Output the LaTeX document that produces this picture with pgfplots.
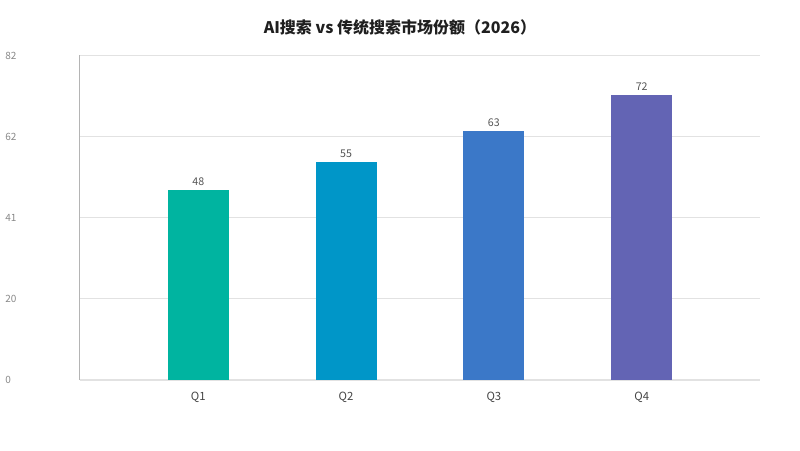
\documentclass[border=0pt]{standalone}
\usepackage{pgfplots}
\pgfplotsset{compat=1.18}
\usepackage{fontspec}
\setmainfont{Noto Sans CJK SC}

\definecolor{cQa}{RGB}{0,180,160}
\definecolor{cQb}{RGB}{0,150,200}
\definecolor{cQc}{RGB}{59,120,200}
\definecolor{cQd}{RGB}{99,100,180}
\definecolor{gridc}{RGB}{226,226,226}
\definecolor{axisc}{RGB}{180,180,180}
\definecolor{ticktxt}{RGB}{136,136,136}
\definecolor{cattxt}{RGB}{68,68,68}
\definecolor{valtxt}{RGB}{85,85,85}

\begin{document}
\begin{tikzpicture}
% canvas 800x450 px (1px = 0.75pt), axis bottom-left at image (80,380)
\path (-60pt,-52.5pt) rectangle (540pt,285pt);
\begin{axis}[
    at={(0pt,0pt)}, anchor=south west,
    scale only axis,
    width=510pt, height=243.4pt,
    xmin=-0.8, xmax=3.8,
    ymin=0, ymax=82,
    xtick={0,1,2,3},
    xticklabels={Q1,Q2,Q3,Q4},
    ytick={0,20.5,41,61.5,82},
    yticklabels={0,20,41,62,82},
    ymajorgrids=true,
    grid style={draw=gridc, line width=0.75pt},
    axis x line*=bottom,
    axis y line*=left,
    x axis line style={draw=gridc, line width=0.75pt, -},
    y axis line style={draw=axisc, line width=0.75pt, -},
    major tick length=0pt,
    /pgf/number format/assume math mode=true,
    yticklabel style={font=\fontsize{7.5}{9}\selectfont, text=ticktxt,
        anchor=west, inner sep=0pt, xshift=-56.25pt},
    xticklabel style={font=\fontsize{8.5}{10}\selectfont, text=cattxt,
        anchor=base, inner sep=0pt, yshift=-15.5pt},
    ybar, bar width=45.75pt, bar shift=0pt,
    nodes near coords,
    nodes near coords style={font=\fontsize{8}{9}\selectfont, text=valtxt,
        anchor=south, inner sep=0pt, yshift=3pt},
    clip=false,
]
\addplot[fill=cQa, draw=none] coordinates {(0,48)};
\addplot[fill=cQb, draw=none] coordinates {(1,55)};
\addplot[fill=cQc, draw=none] coordinates {(2,63)};
\addplot[fill=cQd, draw=none] coordinates {(3,72)};
\end{axis}
\node[font=\bfseries\fontsize{12}{14}\selectfont, text=black!88] at (240pt,264.75pt) {AI搜索 vs 传统搜索市场份额（2026）};
\end{tikzpicture}
\end{document}
